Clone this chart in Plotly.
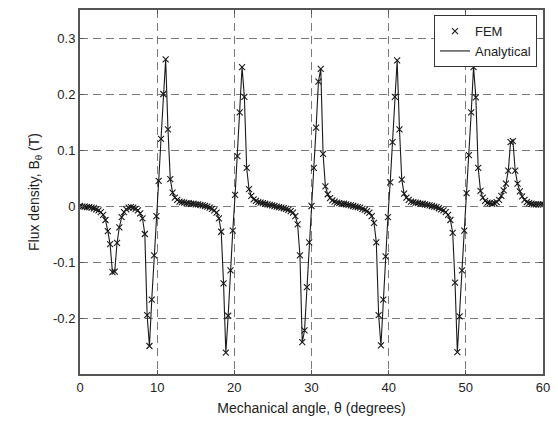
import numpy as np
import plotly.graph_objects as go

# Mechanical angle samples (degrees), 0.3 degree step
angle_deg = np.linspace(0, 60, 201)

# FEM flux density B_theta (T)
fem_flux = [
    0.000, -0.001, -0.001, -0.002, -0.002, -0.003, -0.004, -0.006, -0.008, -0.011,
    -0.016, -0.025, -0.045, -0.068, -0.118, -0.117, -0.066, -0.038, -0.020, -0.011,
    -0.006, -0.003, -0.002, -0.003, -0.005, -0.008, -0.013, -0.022, -0.050, -0.195,
    -0.250, -0.167, -0.088, -0.018, 0.045, 0.120, 0.200, 0.262, 0.137, 0.048,
    0.024, 0.015, 0.011, 0.008, 0.007, 0.006, 0.005, 0.005, 0.004, 0.004,
    0.003, 0.003, 0.002, 0.001, 0.000, -0.001, -0.003, -0.005, -0.008, -0.012,
    -0.022, -0.046, -0.138, -0.262, -0.196, -0.115, -0.044, 0.020, 0.089, 0.167,
    0.248, 0.195, 0.068, 0.030, 0.018, 0.012, 0.009, 0.007, 0.006, 0.005,
    0.004, 0.003, 0.002, 0.001, 0.000, -0.001, -0.002, -0.003, -0.004, -0.005,
    -0.007, -0.009, -0.012, -0.018, -0.033, -0.088, -0.243, -0.222, -0.145, -0.065,
    0.000, 0.068, 0.140, 0.222, 0.245, 0.093, 0.035, 0.021, 0.014, 0.010,
    0.008, 0.006, 0.005, 0.004, 0.004, 0.003, 0.002, 0.001, 0.000, -0.001,
    -0.002, -0.003, -0.005, -0.007, -0.009, -0.012, -0.018, -0.030, -0.065, -0.195,
    -0.249, -0.167, -0.090, -0.020, 0.042, 0.114, 0.195, 0.260, 0.137, 0.047,
    0.022, 0.015, 0.011, 0.008, 0.007, 0.006, 0.005, 0.004, 0.004, 0.003,
    0.002, 0.001, 0.000, -0.001, -0.002, -0.004, -0.006, -0.008, -0.011, -0.016,
    -0.025, -0.048, -0.137, -0.261, -0.197, -0.115, -0.044, 0.023, 0.091, 0.167,
    0.248, 0.194, 0.068, 0.027, 0.015, 0.009, 0.006, 0.005, 0.004, 0.005,
    0.007, 0.011, 0.018, 0.028, 0.040, 0.063, 0.114, 0.116, 0.063, 0.040,
    0.026, 0.017, 0.011, 0.007, 0.005, 0.004, 0.003, 0.003, 0.003, 0.003,
    0.003,
]

# Analytical solution (coincides with FEM points in the reference)
analytical_flux = list(fem_flux)

x_ticks = [0, 10, 20, 30, 40, 50, 60]
y_ticks = [-0.2, -0.1, 0, 0.1, 0.2, 0.3]
y_tick_labels = ["-0.2", "-0.1", "0", "0.1", "0.2", "0.3"]

font_family = "Liberation Sans, Arial, sans-serif"
axis_color = "#555555"
grid_color = "#7a7a7a"

fig = go.Figure()
fig.add_trace(go.Scatter(
    x=angle_deg, y=fem_flux, mode="markers", name="FEM",
    marker=dict(symbol="x-thin", size=6, color="#1a1a1a",
                line=dict(width=1.1, color="#1a1a1a")),
))
fig.add_trace(go.Scatter(
    x=angle_deg, y=analytical_flux, mode="lines", name="Analytical",
    line=dict(color="#1a1a1a", width=1.1),
))

fig.update_layout(
    width=558, height=426,
    margin=dict(l=80, r=15, t=8, b=52),
    paper_bgcolor="white", plot_bgcolor="white",
    font=dict(family=font_family, size=13, color="#222222"),
    showlegend=True,
    legend=dict(
        x=0.987, y=0.986, xanchor="right", yanchor="top",
        bgcolor="white", bordercolor="#333333", borderwidth=1,
        font=dict(size=13), tracegroupgap=0, itemwidth=30,
    ),
    xaxis=dict(
        range=[0, 60], tickvals=x_ticks,
        showgrid=True, gridcolor=grid_color, griddash="8px,5px", gridwidth=1,
        showline=True, linecolor=axis_color, linewidth=2, mirror="allticks",
        ticks="inside", ticklen=4, tickcolor=axis_color,
        zeroline=False,
        title=dict(text="Mechanical angle, θ (degrees)", font=dict(size=14), standoff=10),
        tickfont=dict(size=13),
    ),
    yaxis=dict(
        range=[-0.3, 0.35], tickvals=y_ticks, ticktext=y_tick_labels,
        showgrid=True, gridcolor=grid_color, griddash="8px,5px", gridwidth=1,
        showline=True, linecolor=axis_color, linewidth=2, mirror="allticks",
        ticks="inside", ticklen=4, tickcolor=axis_color,
        zeroline=False,
        title=dict(text="Flux density, B<sub>θ</sub> (T)", font=dict(size=14), standoff=10),
        tickfont=dict(size=13),
    ),
)

fig.write_html("out.html")
